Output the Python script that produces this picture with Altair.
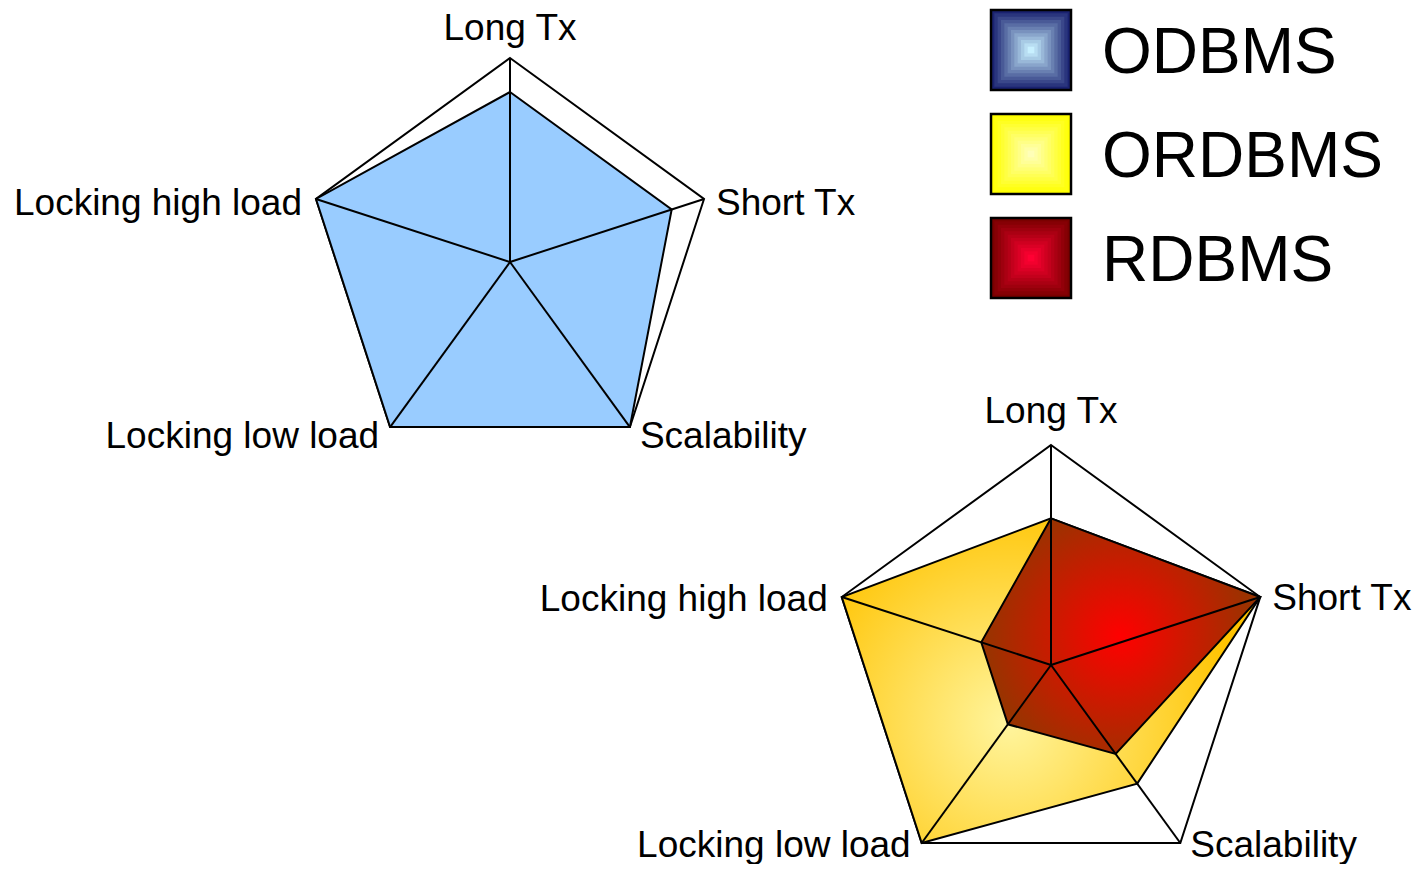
import altair as alt
import pandas as pd

# ---- data ----
categories = ["Long Tx", "Short Tx", "Scalability", "Locking low load", "Locking high load"]
systems = ["ODBMS", "ORDBMS", "RDBMS"]
odbms = [5, 5, 6, 6, 6]
ordbms = [4, 6, 4, 6, 6]
rdbms = [4, 6, 3, 2, 2]
scale_max = 6

# ---- layout (chart pixel units) ----
W, H = 1404, 856
FONT = "Liberation Sans"

rows = []
for sysname, vals, panel in [("ODBMS", odbms, "top"), ("ORDBMS", ordbms, "bottom"), ("RDBMS", rdbms, "bottom")]:
    for i, (c, v) in enumerate(zip(categories, vals)):
        rows.append(dict(system=sysname, panel=panel, idx=i, category=c, value=v))
for panel in ["top", "bottom"]:
    for i, c in enumerate(categories):
        rows.append(dict(system="frame", panel=panel, idx=i, category=c, value=scale_max))
df = pd.DataFrame(rows)

base = alt.Chart(df).transform_calculate(
    cx="datum.panel == 'top' ? 502 : 1043",
    cy="datum.panel == 'top' ? 254 : 657",
    R="datum.panel == 'top' ? 204 : 220",
).transform_calculate(
    ang="datum.idx * 2 * PI / 5",
    r=f"datum.R * datum.value / {scale_max}",
).transform_calculate(
    px="datum.cx + datum.r * sin(datum.ang)",
    py="datum.cy - datum.r * cos(datum.ang)",
)

XS = alt.Scale(domain=[0, W], nice=False, zero=False)
YS = alt.Scale(domain=[0, H], nice=False, zero=False, reverse=True)
xs = alt.X("px:Q", scale=XS, axis=None)
ys = alt.Y("py:Q", scale=YS, axis=None)


def radial(c0, c1, x=0.5, y=0.5, r2=0.6):
    return {
        "gradient": "radial",
        "x1": x, "y1": y, "r1": 0,
        "x2": x, "y2": y, "r2": r2,
        "stops": [{"offset": 0, "color": c0}, {"offset": 1, "color": c1}],
    }


frame = base.transform_filter("datum.system == 'frame'").mark_line(
    interpolate="linear-closed", stroke="black", strokeWidth=2
).encode(x=xs, y=ys, order="idx:Q", detail="panel:N")


def poly(sysname, fill):
    return base.transform_filter(f"datum.system == '{sysname}'").mark_line(
        interpolate="linear-closed", fill=fill, stroke="black", strokeWidth=2
    ).encode(x=xs, y=ys, order="idx:Q")


yellow = poly("ORDBMS", radial("#FFF59E", "#FFC300", x=0.4, y=0.6, r2=0.55))
red = poly("RDBMS", radial("#FF0000", "#993300", x=0.5, y=0.5, r2=0.48))
blue = poly("ODBMS", "#99CCFF")

spokes = base.transform_filter("datum.system == 'frame'").mark_rule(
    stroke="black", strokeWidth=2
).encode(x=xs, y=ys, x2="cx:Q", y2="cy:Q")

# (axis index, align, dx, dy for top panel, dy for bottom panel)
label_specs = [
    (0, "center", 0, -18, -22),
    (1, "left", 12, 16, 13),
    (2, "left", 10, 21, 14),
    (3, "right", -11, 21, 14),
    (4, "right", -14, 16, 14),
]
labels = []
for idx, align, dx, dy_top, dy_bot in label_specs:
    for panel, dy in (("top", dy_top), ("bottom", dy_bot)):
        labels.append(
            base.transform_filter(
                f"datum.system == 'frame' && datum.idx == {idx} && datum.panel == '{panel}'"
            ).mark_text(
                align=align, baseline="alphabetic", dx=dx, dy=dy, font=FONT, fontSize=37, color="black"
            ).encode(x=xs, y=ys, text="category:N")
        )

# ---- legend ----
leg = pd.DataFrame({"system": systems, "row": [0, 1, 2]})
leg_colors = {
    "ODBMS": ("#1A2270", "#C8F0FF"),
    "ORDBMS": ("#FFFF00", "#FFFFB8"),
    "RDBMS": ("#7A0000", "#FF0033"),
}
N_BANDS = 12
SIDE = 80


def mix(c0, c1, t):
    a = [int(c0[i:i + 2], 16) for i in (1, 3, 5)]
    b = [int(c1[i:i + 2], 16) for i in (1, 3, 5)]
    return "#" + "".join(f"{round(x + (y - x) * t):02X}" for x, y in zip(a, b))


band_rows = []
for s, row in zip(systems, [0, 1, 2]):
    edge, center = leg_colors[s]
    for k in range(N_BANDS):
        side = SIDE * (1 - k / N_BANDS)
        band_rows.append(dict(system=s, row=row, band=k, area=side * side,
                              col=mix(edge, center, k / (N_BANDS - 1))))
bands = pd.DataFrame(band_rows)

lpos = dict(lx="1023", ly="42 + 104 * datum.row")
lx = alt.X("lx:Q", scale=XS, axis=None)
ly = alt.Y("ly:Q", scale=YS, axis=None)

leg_bands = alt.Chart(bands).transform_calculate(**lpos).mark_square(
    opacity=1, strokeWidth=0
).encode(
    x=lx, y=ly,
    size=alt.Size("area:Q", scale=None, legend=None),
    fill=alt.Fill("col:N", scale=None, legend=None),
)
leg_border = alt.Chart(leg).transform_calculate(**lpos).mark_square(
    size=SIDE * SIDE, filled=False, fill="transparent", stroke="black", strokeWidth=2.5, opacity=1
).encode(x=lx, y=ly)

leg_text = alt.Chart(leg).transform_calculate(tx="1094", **lpos).mark_text(
    align="left", baseline="alphabetic", dy=23, font=FONT, fontSize=64, color="black"
).encode(
    x=alt.X("tx:Q", scale=XS, axis=None),
    y=ly,
    text="system:N",
)

chart = alt.layer(
    frame, yellow, red, blue, spokes, *labels, leg_bands, leg_border, leg_text
).properties(
    width=W, height=H, autosize=alt.AutoSizeParams(type="none"), padding=0
).configure_view(stroke=None)

chart.save("out.html", embed_options={"renderer": "svg", "actions": False})
